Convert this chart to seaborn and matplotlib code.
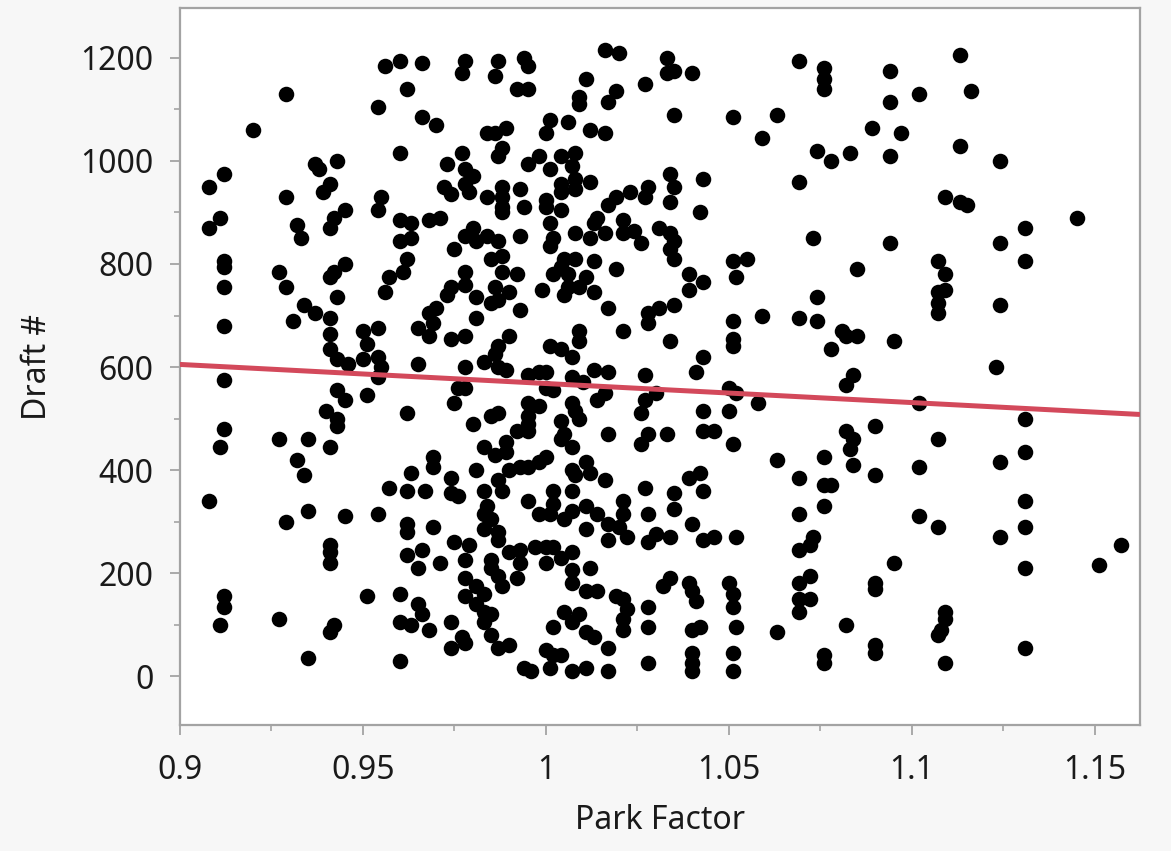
import numpy as np
import matplotlib
matplotlib.use("Agg")
import matplotlib.pyplot as plt
from matplotlib.ticker import MultipleLocator, FuncFormatter
import seaborn as sns

# Park factor vs draft pick (grouped by area of the plot)
pf_low_top = [0.956, 0.960, 0.962, 0.954, 0.929, 0.920, 0.960, 0.937, 0.938, 0.943,
              0.912, 0.908, 0.941, 0.939, 0.929, 0.955, 0.954, 0.945, 0.911, 0.908,
              0.942, 0.941, 0.932, 0.933, 0.960, 0.963, 0.960, 0.963, 0.962]
pick_low_top = [1185, 1195, 1140, 1105, 1130, 1060, 1015, 995, 985, 1000,
                975, 950, 955, 940, 930, 930, 905, 905, 890, 870,
                890, 870, 875, 850, 885, 880, 845, 850, 810]

pf_low_mid = [0.912, 0.912, 0.927, 0.929, 0.912, 0.941, 0.942, 0.945, 0.943, 0.956,
              0.957, 0.961, 0.934, 0.931, 0.937, 0.941, 0.941, 0.941, 0.943, 0.946,
              0.950, 0.954, 0.951, 0.950, 0.954, 0.955, 0.954, 0.965, 0.965, 0.912,
              0.912, 0.943, 0.945, 0.951, 0.940, 0.943, 0.943, 0.962, 0.912, 0.911,
              0.927, 0.935, 0.941, 0.932, 0.934, 0.963, 0.957, 0.962, 0.908]
pick_low_mid = [805, 795, 785, 755, 755, 775, 785, 800, 735, 745,
                775, 785, 720, 690, 705, 695, 665, 635, 615, 605,
                670, 675, 645, 615, 620, 600, 580, 675, 605, 680,
                575, 555, 535, 545, 515, 500, 485, 510, 480, 445,
                460, 460, 445, 420, 390, 395, 365, 360, 340]

pf_low_bot = [0.929, 0.935, 0.945, 0.954, 0.962, 0.962, 0.941, 0.941, 0.941, 0.962,
              0.966, 0.965, 0.912, 0.912, 0.911, 0.927, 0.951, 0.960, 0.965, 0.942,
              0.941, 0.960, 0.963, 0.966, 0.935, 0.960]
pick_low_bot = [300, 320, 310, 315, 295, 280, 255, 240, 220, 235,
                245, 210, 155, 135, 100, 110, 155, 160, 140, 100,
                85, 105, 100, 120, 35, 30]

pf_mid_top = [0.966, 0.978, 0.977, 0.987, 0.986, 0.994, 0.995, 0.992, 0.995, 1.016,
              1.020, 1.011, 1.027, 1.009, 1.009, 1.019, 1.017, 0.966, 0.970, 0.984,
              0.989, 0.986, 0.988, 0.987, 1.001, 1.000, 1.006, 1.012, 1.016, 0.977,
              0.973, 0.978, 0.980, 0.978, 0.979, 0.974, 0.972, 0.984, 0.988, 0.988,
              0.988, 0.988, 0.993, 0.994, 0.995, 0.998, 1.001, 1.004, 1.008, 1.007,
              1.008, 1.004, 1.004, 1.008, 1.012, 1.000, 1.000, 1.004, 1.001, 1.023,
              1.028, 1.027, 1.019, 1.017, 1.014, 1.013, 1.021, 1.024, 1.021, 1.031,
              1.016, 1.012, 1.008, 1.026, 1.002, 1.001, 0.993, 0.968, 0.971, 0.980,
              0.978, 0.981, 0.984, 0.987, 0.975, 0.985, 0.988, 1.005, 1.008, 1.013]
pick_mid_top = [1190, 1195, 1170, 1195, 1165, 1200, 1185, 1140, 1140, 1215,
                1210, 1160, 1150, 1125, 1110, 1135, 1115, 1085, 1070, 1055,
                1065, 1055, 1025, 1010, 1080, 1055, 1075, 1060, 1055, 1015,
                995, 985, 970, 955, 940, 935, 950, 930, 950, 930,
                910, 900, 945, 910, 995, 1010, 985, 1010, 1015, 990,
                965, 955, 940, 945, 960, 925, 910, 905, 880, 940,
                950, 930, 930, 915, 890, 880, 885, 865, 860, 870,
                860, 850, 860, 840, 850, 835, 855, 885, 890, 870,
                855, 845, 855, 845, 830, 810, 815, 810, 810, 805]

pf_mid_mid = [0.988, 0.978, 0.978, 0.974, 0.973, 0.981, 0.986, 0.985, 0.987, 0.990,
              0.992, 0.993, 0.981, 0.970, 0.968, 0.969, 0.968, 0.974, 0.978, 0.990,
              0.987, 0.986, 0.983, 0.978, 0.987, 0.989, 0.976, 0.978, 0.975, 0.980,
              0.985, 0.987, 0.995, 0.998, 1.000, 1.002, 1.000, 0.995, 0.998, 0.995,
              0.995, 0.992, 0.995, 1.001, 1.004, 1.007, 1.009, 1.009, 0.999, 1.002,
              1.004, 1.006, 1.005, 1.006, 1.009, 1.013, 1.011, 1.019, 1.017, 1.021,
              1.028, 1.028, 1.007, 1.010, 1.013, 1.017, 1.016, 1.014, 1.007, 1.008,
              1.009, 1.004, 1.005, 1.004, 1.007, 1.017, 1.027, 1.030, 1.027, 1.026,
              1.028, 1.026, 0.983, 0.986, 0.989, 0.989, 0.993, 0.990, 0.987, 0.988,
              0.981, 0.983, 0.969, 0.969, 0.974, 0.974, 0.967, 0.976, 0.995, 0.998,
              1.000, 1.002, 1.007, 1.008, 1.011, 1.012, 1.007, 1.016, 1.021, 1.027,
              0.995, 1.031]
pick_mid_mid = [785, 785, 760, 755, 740, 735, 755, 725, 730, 745,
                780, 710, 695, 715, 705, 685, 660, 655, 660, 660,
                640, 625, 610, 600, 600, 595, 560, 560, 530, 490,
                505, 510, 585, 590, 590, 555, 560, 530, 525, 505,
                490, 475, 475, 640, 635, 620, 650, 670, 750, 780,
                795, 780, 740, 755, 755, 745, 775, 790, 715, 670,
                705, 685, 580, 570, 595, 590, 550, 535, 530, 515,
                500, 495, 470, 460, 445, 470, 585, 550, 535, 510,
                470, 450, 445, 430, 455, 435, 405, 400, 380, 360,
                400, 360, 425, 405, 385, 355, 360, 350, 405, 415,
                425, 360, 400, 390, 415, 395, 360, 380, 340, 365,
                340, 715]

pf_mid_bot = [0.983, 0.984, 0.985, 0.983, 0.987, 0.987, 0.969, 0.975, 0.979, 0.971,
              0.978, 0.978, 0.978, 0.981, 0.983, 0.985, 0.985, 0.987, 0.988, 0.990,
              0.993, 0.993, 0.992, 0.997, 1.000, 1.002, 1.000, 1.004, 1.007, 1.007,
              1.007, 1.012, 1.011, 1.014, 1.019, 1.021, 1.022, 1.021, 1.021, 1.017,
              1.011, 1.013, 1.009, 1.007, 1.005, 1.002, 1.000, 1.002, 1.004, 1.001,
              0.994, 0.996, 1.007, 1.011, 1.017, 1.028, 1.028, 1.028, 1.032, 0.998,
              1.001, 1.005, 1.002, 1.007, 1.011, 1.014, 1.017, 1.017, 1.011, 1.021,
              1.020, 1.022, 1.028, 1.028, 1.030, 0.981, 0.983, 0.985, 0.983, 0.985,
              0.987, 0.990, 0.977, 0.978, 0.974, 0.974, 0.968]
pick_mid_bot = [315, 330, 305, 285, 280, 265, 290, 260, 255, 220,
                225, 190, 155, 175, 160, 225, 210, 195, 175, 240,
                245, 220, 190, 250, 250, 250, 220, 230, 240, 205,
                180, 210, 165, 165, 155, 150, 130, 110, 90, 55,
                85, 75, 120, 105, 125, 95, 50, 40, 40, 15,
                15, 10, 10, 15, 10, 25, 95, 135, 175, 315,
                315, 305, 335, 320, 330, 315, 295, 265, 285, 315,
                290, 270, 315, 260, 275, 140, 125, 120, 105, 80,
                55, 60, 75, 65, 55, 105, 90]

pf_hi_top = [1.033, 1.033, 1.035, 1.040, 1.069, 1.076, 1.076, 1.076, 1.094, 1.094,
             1.097, 1.089, 1.035, 1.051, 1.063, 1.059, 1.074, 1.078, 1.083, 1.094,
             1.034, 1.035, 1.034, 1.043, 1.042, 1.069, 1.034, 1.035, 1.034, 1.035,
             1.073, 1.094, 1.051, 1.055]
pick_hi_top = [1200, 1170, 1175, 1170, 1195, 1180, 1160, 1140, 1175, 1115,
               1055, 1065, 1090, 1085, 1090, 1045, 1020, 1000, 1015, 1010,
               975, 950, 920, 965, 900, 960, 860, 845, 830, 810,
               850, 840, 805, 810]

pf_hi_mid = [1.052, 1.039, 1.043, 1.039, 1.035, 1.059, 1.051, 1.069, 1.074, 1.074,
             1.085, 1.034, 1.051, 1.051, 1.081, 1.082, 1.085, 1.078, 1.095, 1.043,
             1.041, 1.084, 1.082, 1.050, 1.052, 1.058, 1.043, 1.050, 1.033, 1.043,
             1.046, 1.051, 1.063, 1.076, 1.082, 1.084, 1.083, 1.084, 1.090, 1.090,
             1.069, 1.076, 1.078, 1.039, 1.042, 1.035, 1.043, 1.076]
pick_hi_mid = [775, 780, 765, 750, 720, 700, 690, 695, 735, 690,
               790, 650, 655, 640, 670, 660, 660, 635, 650, 620,
               590, 585, 565, 560, 550, 530, 515, 515, 470, 475,
               475, 450, 420, 425, 475, 460, 440, 410, 485, 390,
               385, 370, 370, 385, 395, 355, 360, 330]

pf_hi_bot = [1.035, 1.040, 1.034, 1.043, 1.046, 1.052, 1.069, 1.073, 1.072, 1.069,
             1.095, 1.034, 1.039, 1.040, 1.041, 1.050, 1.051, 1.051, 1.069, 1.072,
             1.069, 1.072, 1.069, 1.090, 1.090, 1.082, 1.063, 1.052, 1.040, 1.042,
             1.040, 1.040, 1.040, 1.051, 1.051, 1.076, 1.076, 1.090, 1.090]
pick_hi_bot = [325, 295, 270, 265, 270, 270, 315, 270, 255, 245,
               220, 190, 180, 165, 145, 180, 160, 135, 180, 195,
               150, 150, 125, 180, 170, 100, 85, 95, 90, 95,
               45, 25, 10, 45, 10, 40, 25, 60, 45]

pf_far = [1.113, 1.102, 1.116, 1.113, 1.124, 1.109, 1.113, 1.115, 1.145, 1.131,
          1.124, 1.107, 1.131, 1.109, 1.107, 1.109, 1.107, 1.107, 1.124, 1.123,
          1.102, 1.131, 1.107, 1.102, 1.124, 1.131, 1.131, 1.102, 1.107, 1.124,
          1.131, 1.157, 1.151, 1.131, 1.109, 1.109, 1.108, 1.107, 1.109, 1.131]
pick_far = [1205, 1130, 1135, 1030, 1000, 930, 920, 915, 890, 870,
            840, 805, 805, 780, 745, 750, 725, 705, 720, 600,
            530, 500, 460, 405, 415, 435, 340, 310, 290, 270,
            290, 255, 215, 210, 125, 110, 90, 80, 25, 55]

# fitted line as it appears on the chart
fit_pf = [0.900, 1.162]
fit_pick = [605, 508]

park_factor = np.concatenate([pf_low_top, pf_low_mid, pf_low_bot, pf_mid_top, pf_mid_mid,
                              pf_mid_bot, pf_hi_top, pf_hi_mid, pf_hi_bot, pf_far])
draft_pick = np.concatenate([pick_low_top, pick_low_mid, pick_low_bot, pick_mid_top, pick_mid_mid,
                             pick_mid_bot, pick_hi_top, pick_hi_mid, pick_hi_bot, pick_far])
assert len(park_factor) == len(draft_pick)

sns.set_style("white")
plt.rcParams['font.family'] = ['Noto Sans', 'DejaVu Sans']

fig = plt.figure(figsize=(11.71, 8.51), dpi=100, facecolor='#f7f7f7')
ax = fig.add_axes([180 / 1171, 1 - 725 / 851, 960 / 1171, 717 / 851])
ax.set_facecolor('white')

sns.scatterplot(x=park_factor, y=draft_pick, ax=ax, color='black', s=125,
                linewidth=0, zorder=2)
sns.lineplot(x=fit_pf, y=fit_pick, ax=ax, color='#d3495b', linewidth=3.6, zorder=3)

ax.set_xlim(0.9, 1.1623)
ax.set_ylim(-95, 1297)

ax.xaxis.set_major_locator(MultipleLocator(0.05))
ax.xaxis.set_minor_locator(MultipleLocator(0.025))
ax.yaxis.set_major_locator(MultipleLocator(200))
ax.yaxis.set_minor_locator(MultipleLocator(100))
ax.xaxis.set_major_formatter(FuncFormatter(lambda v, p: f"{v:.2f}".rstrip('0').rstrip('.')))

gray = '#a3a3a3'
for side in ['left', 'bottom', 'top', 'right']:
    ax.spines[side].set_visible(True)
    ax.spines[side].set_color(gray)
    ax.spines[side].set_linewidth(1.6)

ax.tick_params(axis='both', which='major', direction='out', length=7, width=1.3,
               color=gray, labelsize=23, labelcolor='#1a1a1a')
ax.tick_params(axis='x', which='major', pad=14)
ax.tick_params(axis='y', which='major', pad=12)
ax.tick_params(axis='both', which='minor', direction='out', length=4, width=1.2, color=gray)
ax.tick_params(top=False, right=False, bottom=True, left=True, which='both')

ax.set_xlabel('Park Factor', fontsize=23, color='#1a1a1a', labelpad=12)
ax.set_ylabel('Draft #', fontsize=23, color='#1a1a1a', labelpad=19)

fig.savefig('out.png', dpi=100, facecolor=fig.get_facecolor())
